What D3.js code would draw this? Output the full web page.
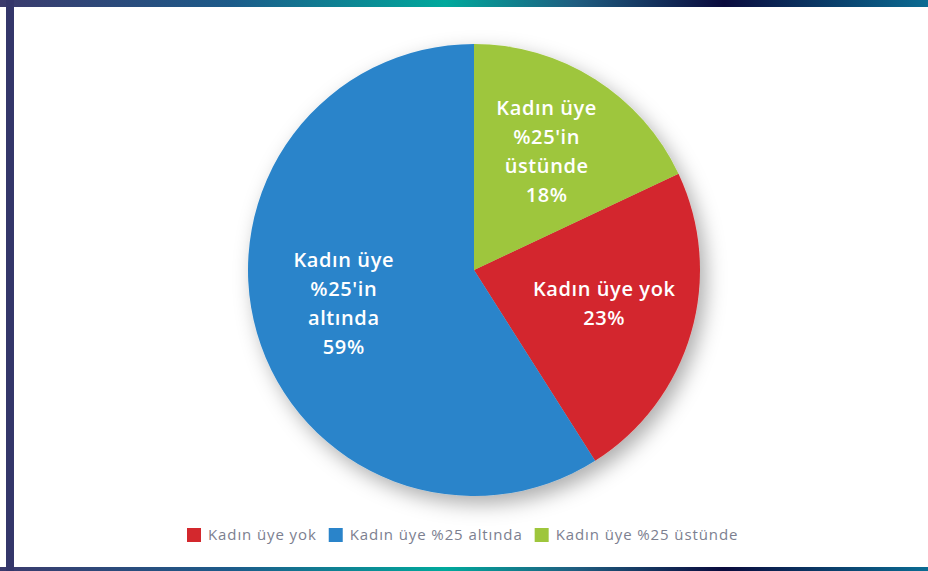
<!DOCTYPE html>
<html>
<head>
<meta charset="utf-8">
<script src="https://cdn.jsdelivr.net/npm/d3@7"></script>
<style>
  html, body { margin: 0; padding: 0; background: #fff; }
  svg { display: block; }
</style>
</head>
<body>
<div id="chart"></div>
<script>
// legend order
const categories = ["Kadın üye yok", "Kadın üye %25 altında", "Kadın üye %25 üstünde"]
const values = [23, 59, 18]
// order of the slices clockwise from 12 o'clock
const pieOrder = ["Kadın üye %25 üstünde", "Kadın üye yok", "Kadın üye %25 altında"]
const sliceLabels = [
    ["Kadın üye yok", "23%"],
    ["Kadın üye", "%25'in", "altında", "59%"],
    ["Kadın üye", "%25'in", "üstünde", "18%"]
]
const colors = ["#d3282d", "#2a84ca", "#9ec63c"]

const width = 928, height = 571
const cx = 474, cy = 270, radius = 226

const data = categories.map((c, i) => ({ name: c, value: values[i], lines: sliceLabels[i] }))

const svg = d3.select("#chart").append("svg")
    .attr("width", width)
    .attr("height", height)

const defs = svg.append("defs")

const band = defs.append("linearGradient").attr("id", "band")
    .attr("x1", "0%").attr("x2", "100%").attr("y1", "0%").attr("y2", "0%")
band.selectAll("stop")
    .data([[0, "#3b3a6c"], [0.25, "#1c5b8a"], [0.48, "#00a99c"], [0.62, "#1f5d80"], [0.78, "#0a0b3d"], [1, "#0b6c93"]])
    .join("stop")
    .attr("offset", d => d[0])
    .attr("stop-color", d => d[1])

const shadow = defs.append("filter").attr("id", "shadow")
    .attr("x", "-20%").attr("y", "-20%").attr("width", "140%").attr("height", "140%")
shadow.append("feDropShadow")
    .attr("dx", 6).attr("dy", 8).attr("stdDeviation", 10)
    .attr("flood-color", "#000").attr("flood-opacity", 0.32)

// frame
svg.append("rect").attr("x", 0).attr("y", 0).attr("width", width).attr("height", 7).attr("fill", "url(#band)")
svg.append("rect").attr("x", 0).attr("y", 567).attr("width", width).attr("height", 4).attr("fill", "url(#band)")
svg.append("rect").attr("x", 6).attr("y", 0).attr("width", 8).attr("height", height).attr("fill", "#34366a")

const color = d3.scaleOrdinal().domain(categories).range(colors)

const pie = d3.pie()
    .value(d => d.value)
    .sort((a, b) => pieOrder.indexOf(a.name) - pieOrder.indexOf(b.name))

const arc = d3.arc().innerRadius(0).outerRadius(radius)
const labelArc = d3.arc().innerRadius(radius * 0.6).outerRadius(radius * 0.6)

const g = svg.append("g").attr("transform", `translate(${cx},${cy})`)
const arcs = pie(data)

g.append("g")
    .attr("filter", "url(#shadow)")
    .selectAll("path")
    .data(arcs)
    .join("path")
    .attr("d", arc)
    .attr("fill", d => color(d.data.name))

const lineH = 29
const labels = g.append("g").selectAll("text")
    .data(arcs)
    .join("text")
    .attr("transform", d => {
        const [x, y] = labelArc.centroid(d)
        return `translate(${x},${y - 4})`
    })
    .attr("text-anchor", "middle")
    .attr("fill", "#fff")
    .style("font-family", "'Open Sans', sans-serif")
    .style("font-weight", 600)
    .style("font-size", "20px")
    .style("letter-spacing", "0.6px")

labels.selectAll("tspan")
    .data(d => d.data.lines.map((l, i, arr) => ({ l, i, n: arr.length })))
    .join("tspan")
    .attr("x", 0)
    .attr("y", d => (d.i - (d.n - 1) / 2) * lineH)
    .attr("dy", "0.35em")
    .text(d => d.l)

// legend
const legend = svg.append("g").attr("transform", "translate(187,535)")
let lx = 0
categories.forEach((c, i) => {
    const item = legend.append("g").attr("transform", `translate(${lx},0)`)
    item.append("rect")
        .attr("x", 0).attr("y", -7)
        .attr("width", 14).attr("height", 14)
        .attr("fill", color(c))
    const t = item.append("text")
        .attr("x", 21).attr("dy", "0.35em")
        .attr("fill", "#7c8090")
        .style("font-family", "'Open Sans', sans-serif")
        .style("font-size", "15px")
        .style("letter-spacing", "0.9px")
        .text(c)
    lx += 21 + t.node().getComputedTextLength() + 12
})
</script>
</body>
</html>
